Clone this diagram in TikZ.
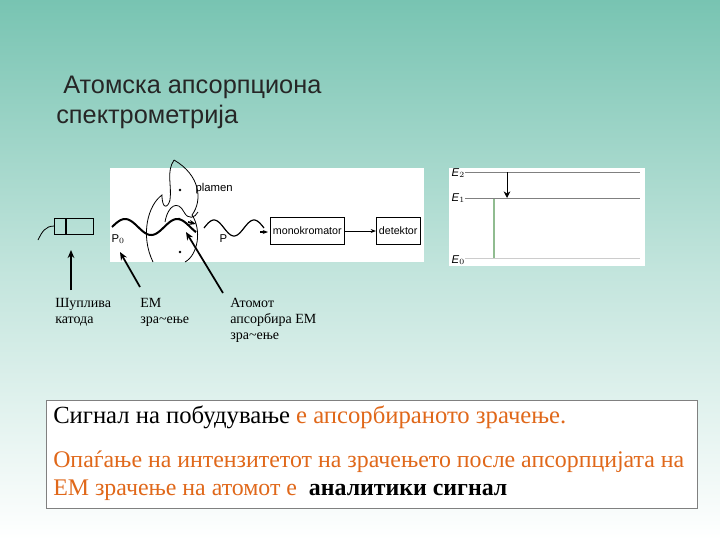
\documentclass[tikz,border=0pt]{standalone}
\usepackage{fontspec}
\setmainfont{Liberation Serif}
\newfontfamily\sansf{Liberation Sans}
\usetikzlibrary{arrows.meta}
\definecolor{teal1}{HTML}{78C4B2}
\definecolor{orng}{HTML}{E0681A}
\tikzset{lbl/.style={font=\fontsize{10.5}{12}\selectfont,align=left,anchor=north west,inner sep=0},
 sm/.style={font=\sansf\fontsize{8.5}{10}\selectfont,inner sep=1pt},
 boxn/.style={draw,font=\sansf\fontsize{8}{10}\selectfont,minimum height=20,inner sep=2pt},
 pt/.style={-{Stealth[length=6,width=5]},line width=1.3pt}}
\begin{document}
\begin{tikzpicture}[x=0.75pt,y=-0.75pt]
\useasboundingbox (0,0) rectangle (720,540);
\shade[top color=teal1,bottom color=white,middle color=teal1!45] (0,0) rectangle (720,540);
\node[anchor=north west,align=left,font=\sansf\fontsize{19}{22}\selectfont,text=black!85,inner sep=0] (title) at (56,76) {\ Атомска апсорпциона\\спектрометрија};
% main white panel
\node[fill=white,minimum width=314*0.75pt,minimum height=94*0.75pt,anchor=north west,inner sep=0] (panel) at (110,168) {};
% wave
\draw[line width=1.5pt,domain=0:84,samples=80,smooth] plot ({112+\x},{227-8*sin(6.9*\x)});
\draw[-{Stealth[length=5]},line width=1.3pt] (188,222) -- (196,224);
\draw[line width=0.9pt,domain=0:60,samples=60,smooth] plot ({204+\x},{228-8*sin(9*\x)});
\draw[-{Stealth[length=4]},line width=0.8pt] (260,232) -- (268,232);
% flame
\draw[line width=0.6pt] (153,262) .. controls (140,235) and (148,205) .. (162,195) .. controls (162,210) and (168,208) .. (170,200) .. controls (172,185) and (166,172) .. (174,160);
\draw[line width=0.6pt] (174,160) .. controls (200,175) and (203,200) .. (192,215) .. controls (202,230) and (198,255) .. (185,262);
\draw[line width=0.6pt] (165,222) .. controls (168,205) and (178,200) .. (184,212) .. controls (188,220) and (195,218) .. (198,212);
\fill (180,190) circle (1.4); \fill (179,219) circle (1.4); \fill (180,252) circle (1.4);
\node[sm,anchor=west] (pl) at (194,189) {plamen};
\node[sm,anchor=north west] (p0) at (110,233) {P$_0$};
\node[sm,anchor=north west] (pp) at (218,233) {P};
\node[boxn,anchor=west] (mono) at (270,231) {monokromator};
\node[boxn,anchor=west] (det) at (376,231) {detektor};
\draw[-{Stealth[length=4]},line width=0.7pt] (mono) -- (det);
% lamp
\node[draw,minimum width=27*0.75pt,minimum height=16*0.75pt,anchor=west,inner sep=0] (lamp2) at (66,226) {};
\node[draw,minimum width=11*0.75pt,minimum height=16*0.75pt,anchor=east,inner sep=0] (lamp1) at (66,226) {};
\draw[line width=0.6pt] (lamp1.west) .. controls (45,226) and (42,232) .. (38,240);
% arrows and labels
\coordinate (a1) at (71,290); \coordinate (a2) at (140,287); \coordinate (a3) at (223,293);
\draw[pt] (a1) -- (71,250);
\draw[pt] (a2) -- (120,252);
\draw[pt] (a3) -- (186,232);
\node[lbl] (l1) at (55,298) {Шупливa\\катода};
\node[lbl] (l2) at (140,298) {ЕМ\\зра\textasciitilde ење};
\node[lbl] (l3) at (230,298) {Атомот\\апсорбира ЕМ\\зра\textasciitilde ење};
% energy panel
\node[fill=white,minimum width=196*0.75pt,minimum height=98*0.75pt,anchor=north west,inner sep=0] (epanel) at (449,168) {};
\draw[gray,line width=0.6pt] (465,172) -- (640,172);
\draw[gray,line width=0.6pt] (465,198) -- (640,198);
\draw[gray!40,line width=0.6pt] (465,258) -- (640,258);
\node[sm,anchor=west] (e2) at (450,173) {\textit{E}$_2$};
\node[sm,anchor=west] (e1) at (450,198) {\textit{E}$_1$};
\node[sm,anchor=west] (e0) at (450,260) {\textit{E}$_0$};
\coordinate (t1) at (507,172); \coordinate (t2) at (507,198);
\draw[-{Stealth[length=5,width=5]},line width=0.7pt] (t1) -- (t2);
\draw[green!25!gray!70,line width=1pt] (494,199) -- (494,258);
% text box
\node[draw=gray,fill=white,minimum width=651*0.75pt,minimum height=108*0.75pt,anchor=north west,inner sep=0] (tb) at (46,400) {};
\node[anchor=north west,inner sep=0,font=\fontsize{18.5}{22}\selectfont,align=left] (t1x) at (53,406) {Сигнал на побудување \textcolor{orng}{е апсорбираното зрачење.}};
\node[anchor=north west,inner sep=0,font=\fontsize{17.9}{21}\selectfont,align=left,text=orng] (t2x) at (53,451) {Опаѓање на интензитетот на зрачењето после апсорпцијата на\\ЕМ зрачење на атомот е \ \textcolor{black}{\textbf{аналитики сигнал}}};
\end{tikzpicture}
\end{document}
